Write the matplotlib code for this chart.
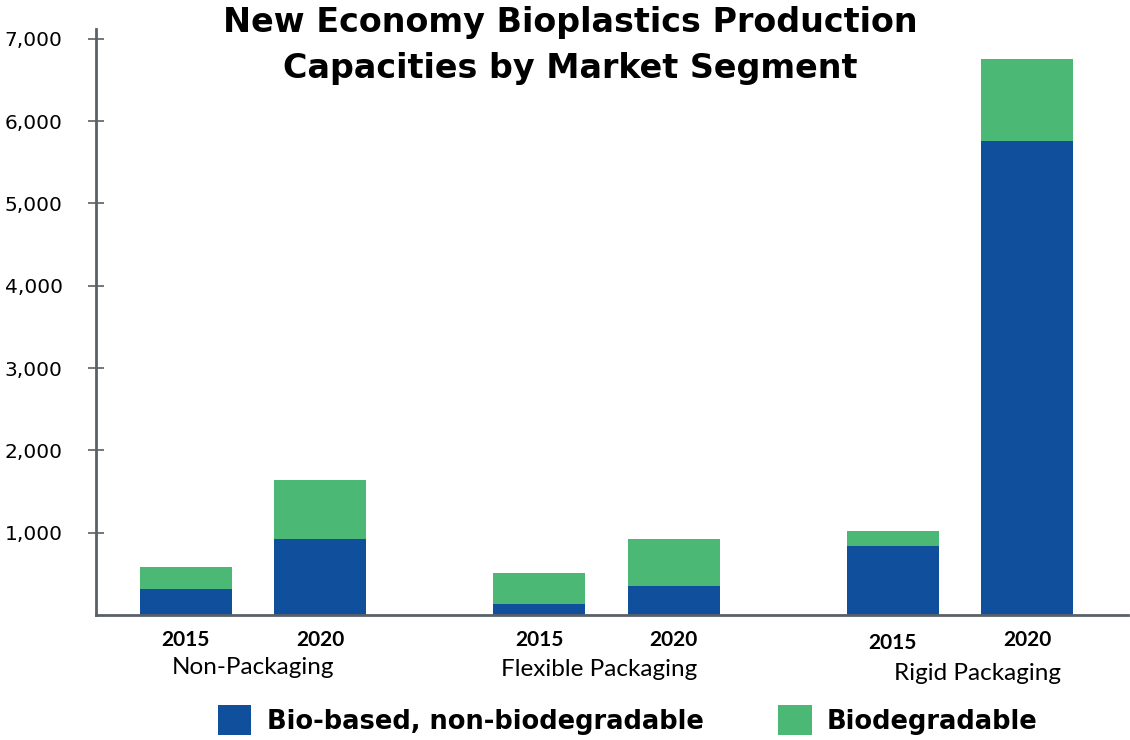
import matplotlib
matplotlib.use("Agg")
import matplotlib.pyplot as plt
import numpy as np

# data
segments = ["Non-Packaging", "Flexible Packaging", "Rigid Packaging"]
years = ["2015", "2020"]
bio_based = [320, 920, 130, 350, 840, 5760]      # Bio-based, non-biodegradable
biodegradable = [265, 725, 375, 570, 175, 1000]  # Biodegradable
yticks = [1000, 2000, 3000, 4000, 5000, 6000, 7000]

BLUE = "#104f9b"
GREEN = "#4bb876"
AXIS = "#5a6068"

fig = plt.figure(figsize=(11.3, 7.4), dpi=100)
ax = fig.add_axes([96 / 1130, 1 - 615 / 740, (1128 - 96) / 1130, (615 - 29) / 740])

# bar layout: groups at 0,1,2 and two bars per group
offset = 0.19
width = 0.26
xs = []
for g in range(len(segments)):
    xs += [g - offset, g + offset]
xs = np.array(xs)

ax.bar(xs, bio_based, width, color=BLUE, label="Bio-based, non-biodegradable")
ax.bar(xs, biodegradable, width, bottom=bio_based, color=GREEN, label="Biodegradable")

ax.set_xlim(-0.444, 2.475)
ax.set_ylim(0, 7120)
ax.set_yticks(yticks)
ax.set_yticklabels([f"{v:,}" for v in yticks], fontsize=14.5, family="DejaVu Sans")
ax.tick_params(axis="y", direction="inout", length=12, width=1.2, color=AXIS, pad=18)
ax.set_xticks([])

for s in ["top", "right"]:
    ax.spines[s].set_visible(False)
for s in ["left", "bottom"]:
    ax.spines[s].set_color(AXIS)
    ax.spines[s].set_linewidth(2)

# year + segment labels under the bars
trans = ax.get_xaxis_transform()
year_y = [-0.043, -0.043, -0.043, -0.043, -0.048, -0.043]
for i, x in enumerate(xs):
    ax.text(x, year_y[i], years[i % 2], transform=trans, ha="center", va="center",
            fontsize=15, fontweight="bold", family="Lato")
seg_dx = [0.0, -0.02, 0.05]
seg_y = [-0.090, -0.093, -0.099]
for g, name in enumerate(segments):
    ax.text(g + seg_dx[g], seg_y[g], name, transform=trans, ha="center", va="center",
            fontsize=17.5, family="Lato")

fig.text(0.505, 0.938, "New Economy Bioplastics Production\nCapacities by Market Segment",
         ha="center", va="center", fontsize=24, fontweight="bold", family="DejaVu Sans",
         linespacing=1.5)

fig.legend(loc="center left", bbox_to_anchor=(218 / 1130, 1 - 720 / 740), ncol=2,
           frameon=False, prop={"family": "DejaVu Sans", "weight": "bold", "size": 18.5},
           borderpad=0, borderaxespad=0,
           handlelength=1.3, handleheight=1.4, handletextpad=0.6, columnspacing=2.9)

fig.savefig("out.png", dpi=100)
